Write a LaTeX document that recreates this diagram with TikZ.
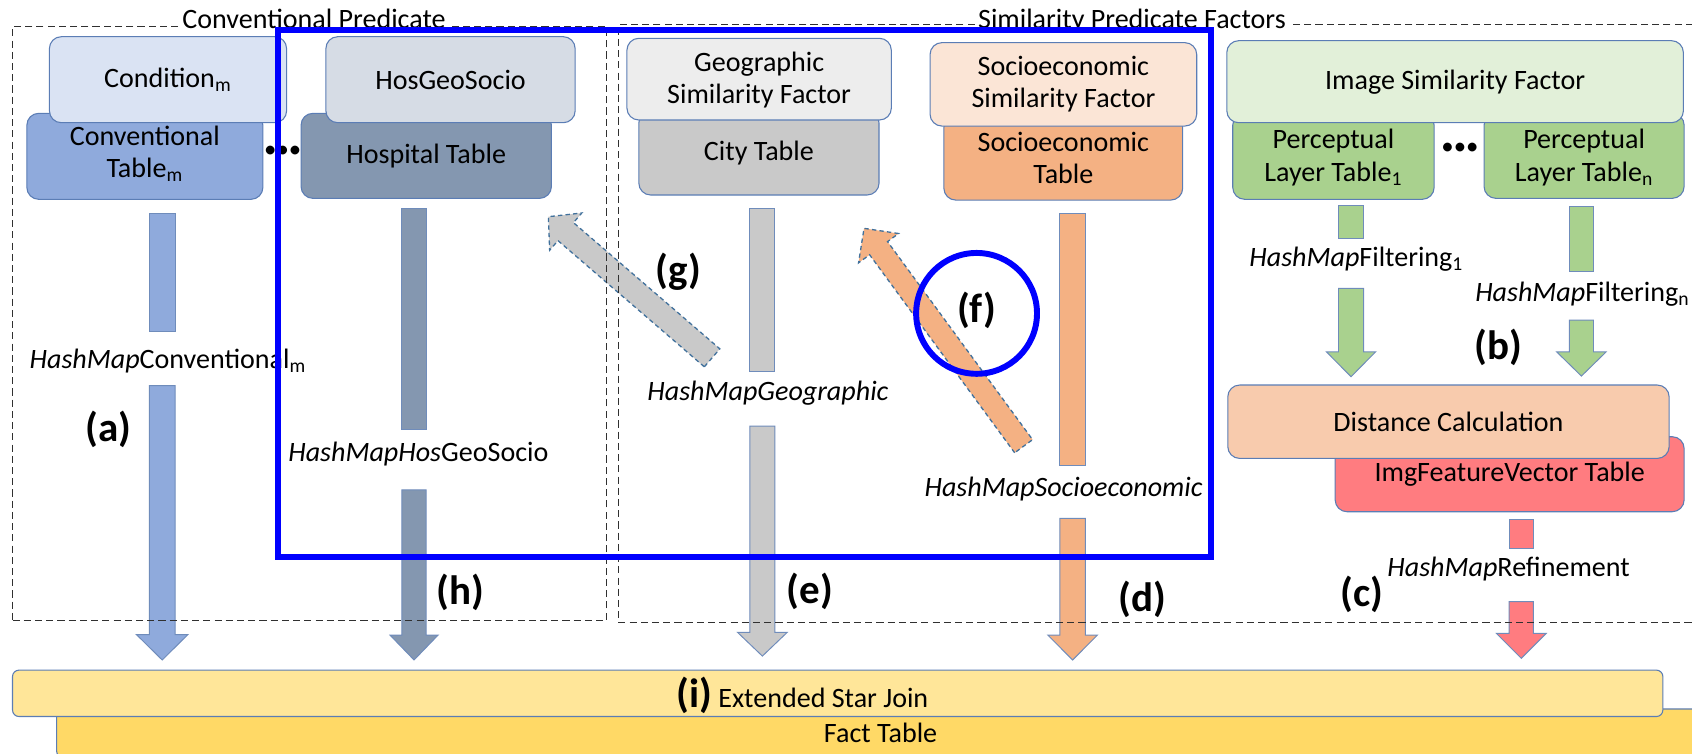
\documentclass[tikz,border=0pt]{standalone}
\usepackage{fontspec}
\setmainfont{Carlito}
\usetikzlibrary{calc,fit}

\definecolor{condfill}{HTML}{DAE3F3}
\definecolor{convfill}{HTML}{8FAADC}
\definecolor{hgsfill}{HTML}{D6DCE5}
\definecolor{hospfill}{HTML}{8497B0}
\definecolor{geofill}{HTML}{EDEDED}
\definecolor{cityfill}{HTML}{C9C9C9}
\definecolor{sesffill}{HTML}{FBE5D6}
\definecolor{setabfill}{HTML}{F4B183}
\definecolor{isffill}{HTML}{E2F0D9}
\definecolor{pltfill}{HTML}{A9D18E}
\definecolor{distfill}{HTML}{F8CBAD}
\definecolor{ifvfill}{HTML}{FF7C80}
\definecolor{sjfill}{HTML}{FFE699}
\definecolor{factfill}{HTML}{FFD966}
\definecolor{boxline}{HTML}{5B7DB5}
\definecolor{arrowline}{HTML}{6F8CBB}
\definecolor{dashline}{HTML}{41719C}
\definecolor{regionline}{HTML}{303030}
\definecolor{focusblue}{HTML}{0000FF}

% plain shaft piece of a block arrow: top coordinate, bottom coordinate, half width, style
\newcommand\shaftbar[4]{%
  \draw[#4] ($(#1)+(-#3,0)$) rectangle ($(#2)+(#3,0)$);}
% block arrow: tail, tip, half shaft width, half head width, head length, style
\newcommand\blockarrow[6]{%
  \path ($(#2)!#5!(#1)$) coordinate (ba-base);
  \draw[#6] ($(#1)!#3!90:(#2)$) -- ($(ba-base)!#3!90:(#2)$) -- ($(ba-base)!#4!90:(#2)$)
    -- (#2) -- ($(ba-base)!#4!-90:(#2)$) -- ($(ba-base)!#3!-90:(#2)$)
    -- ($(#1)!#3!-90:(#2)$) -- cycle;}

\begin{document}
\begin{tikzpicture}[x=0.5pt,y=-0.5pt,
  every node/.style={font=\fontsize{13}{15}\selectfont, text=black},
  tbl/.style={draw=boxline, line width=0.5pt, rounded corners=5.5pt, inner sep=0pt},
  tbltext/.style={align=center, inner sep=0pt},
  region/.style={draw=regionline, line width=0.55pt, dash pattern=on 3.3pt off 1.9pt, inner sep=0pt},
  regiontitle/.style={fill=white, inner sep=1.5pt, anchor=base},
  hashlabel/.style={anchor=base, inner sep=0pt},
  steplabel/.style={font=\fontsize{19}{22}\selectfont\bfseries},
  dots/.style={font=\fontsize{11.5}{13}\selectfont, inner sep=0pt},
  blockarr/.style={draw=arrowline, line width=0.45pt, fill=#1},
  diagarr/.style={draw=dashline, line width=0.6pt, dash pattern=on 2pt off 1.5pt, fill=#1},
  focus/.style={draw=focusblue, line width=2.75pt}
]
\useasboundingbox (0,0) rectangle (1568,698);
\clip (0,0) rectangle (1568,698);

% ---------- fact table and star join ----------
\node[tbl, fill=factfill, rounded corners=3pt, fit={(52.5,657) (1580,702)}] (fact) {};
\node[tbltext] (facttext) at (816,679.5) {Fact Table};
\node[tbl, fill=sjfill, rounded corners=3pt, fit={(11.6,621) (1541,664)}] (sj) {};
\node[anchor=west, inner sep=0pt] (sjtext) at (626.4,644)
  {{\fontsize{19}{22}\selectfont\bfseries (i)}\ Extended Star Join};

% ---------- conventional predicate tables ----------
\node[tbl, fill=convfill, fit={(24.9,105) (243.6,184.7)}] (convtab) {};
\node[tbltext] (convtabtext) at (134.3,142.7) {Conventional\\Table\textsubscript{m}};
\node[tbl, fill=condfill, fit={(45.8,34) (265.6,113.7)}] (cond) {};
\node[tbltext] (condtext) at (155.7,74) {Condition\textsubscript{m}};
\node[tbl, fill=hospfill, fit={(279,105) (511,183.8)}] (hosptab) {};
\node[tbltext] (hosptabtext) at (395,145) {Hospital Table};
\node[tbl, fill=hgsfill, fit={(302,34) (533,113.7)}] (hgs) {};
\node[tbltext] (hgstext) at (417.5,74) {HosGeoSocio};
\node[dots] (convdots) at (262,140.6) {•••};

% ---------- similarity factor tables ----------
\node[tbl, fill=cityfill, fit={(592,103) (814.6,180.7)}] (city) {};
\node[tbltext] (citytext) at (703.3,142) {City Table};
\node[tbl, fill=geofill, fit={(581,35.5) (826,111.2)}] (geo) {};
\node[tbltext] (geotext) at (703.5,74) {Geographic\\Similarity Factor};
\node[tbl, fill=setabfill, fit={(874.7,107) (1096,185.4)}] (setab) {};
\node[tbltext] (setabtext) at (985.4,146.5) {Socioeconomic\\Table};
\node[tbl, fill=sesffill, fit={(861.9,39.5) (1109,116.8)}] (sesf) {};
\node[tbltext] (sesftext) at (985.5,78) {Socioeconomic\\Similarity Factor};
\node[tbl, fill=pltfill, fit={(1142.4,105) (1329,184.7)}] (plt1) {};
\node[tbltext] (plt1text) at (1235.7,146) {Perceptual\\Layer Table\textsubscript{1}};
\node[tbl, fill=pltfill, fit={(1375.3,105) (1560.7,183.8)}] (pltn) {};
\node[tbltext] (pltntext) at (1468,146) {Perceptual\\Layer Table\textsubscript{n}};
\node[tbl, fill=isffill, fit={(1136.9,37.7) (1560,113.7)}] (isf) {};
\node[tbltext] (isftext) at (1348.5,75.7) {Image Similarity Factor};
\node[dots] (imgdots) at (1353,138) {•••};
\node[tbl, fill=ifvfill, fit={(1237.3,404.7) (1560.7,474.2)}] (ifv) {};
\node[tbltext] (ifvtext) at (1399,439.3) {ImgFeatureVector Table};
\node[tbl, fill=distfill, fit={(1137.8,356.8) (1546.8,424.8)}] (dist) {};
\node[tbltext] (disttext) at (1342.3,390.8) {Distance Calculation};

% ---------- hash map labels ----------
\node[hashlabel] (convlab) at (155.7,341.4) {\textit{HashMap}Conventional\textsubscript{m}};
\node[hashlabel] (hgslab) at (387.7,427.9) {\textit{HashMapHos}GeoSocio};
\node[hashlabel] (geolab) at (711.6,370.7) {\textit{HashMapGeographic}};
\node[hashlabel] (selab) at (985.6,460.3) {\textit{HashMapSocioeconomic}};
\node[hashlabel] (f1lab) at (1257,247) {\textit{HashMap}Filtering\textsubscript{1}};
\node[hashlabel] (fnlab) at (1466.5,279.6) {\textit{HashMap}Filtering\textsubscript{n}};
\node[hashlabel] (reflab) at (1398,534.4) {\textit{HashMap}Refinement};

% ---------- arrow end points ----------
\coordinate (a1) at (150.3,197.7); \coordinate (a2) at (150.3,307.4);
\coordinate (a3) at (150.3,357.4); \coordinate (a4) at (150.3,611.6);
\coordinate (h1) at (383.7,193);   \coordinate (h2) at (383.7,397.6);
\coordinate (h3) at (383.7,454);   \coordinate (h4) at (383.7,611.6);
\coordinate (e1) at (706.5,193);   \coordinate (e2) at (706.5,344.5);
\coordinate (e3) at (706.5,394.8); \coordinate (e4) at (706.5,608);
\coordinate (d1) at (994,197.7);   \coordinate (d2) at (994,431);
\coordinate (d3) at (994,480.4);   \coordinate (d4) at (994,611.6);
\coordinate (b1) at (1252,190.6);  \coordinate (b2) at (1252,221);
\coordinate (b3) at (1252,267.2);  \coordinate (b4) at (1252,349.1);
\coordinate (n1) at (1465.5,191.5); \coordinate (n2) at (1465.5,251.8);
\coordinate (n3) at (1465.5,296.6); \coordinate (n4) at (1465.5,348.5);
\coordinate (c1) at (1409.8,481.3); \coordinate (c2) at (1409.8,508.2);
\coordinate (c3) at (1409.8,557.6); \coordinate (c4) at (1409.8,610.1);
\coordinate (gtail) at (659.9,331.6); \coordinate (gtip) at (508.2,200.8);
\coordinate (ftail) at (948.6,413.5); \coordinate (ftip) at (800.7,211.6);

% ---------- block arrows ----------
\shaftbar{a1}{a2}{11.9}{blockarr=convfill}
\blockarrow{a3}{a4}{5.95pt}{11.95pt}{11.8pt}{blockarr=convfill}
\shaftbar{h1}{h2}{11.2}{blockarr=hospfill}
\blockarrow{h3}{h4}{5.6pt}{11.15pt}{11.55pt}{blockarr=hospfill}
\shaftbar{e1}{e2}{11.5}{blockarr=cityfill}
\blockarrow{e3}{e4}{5.75pt}{11.5pt}{11pt}{blockarr=cityfill}
\shaftbar{d1}{d2}{11.8}{blockarr=setabfill}
\blockarrow{d3}{d4}{5.9pt}{11.5pt}{11.55pt}{blockarr=setabfill}
\shaftbar{b1}{b2}{11.6}{blockarr=pltfill}
\blockarrow{b3}{b4}{5.8pt}{11.4pt}{11.55pt}{blockarr=pltfill}
\shaftbar{n1}{n2}{11.2}{blockarr=pltfill}
\blockarrow{n3}{n4}{5.6pt}{11.5pt}{11.25pt}{blockarr=pltfill}
\shaftbar{c1}{c2}{11.2}{blockarr=ifvfill}
\blockarrow{c3}{c4}{5.6pt}{11.5pt}{11.55pt}{blockarr=ifvfill}
\blockarrow{gtail}{gtip}{5.5pt}{11.4pt}{10.6pt}{diagarr=cityfill}
\blockarrow{ftail}{ftip}{5.15pt}{11.5pt}{11.4pt}{diagarr=setabfill}

% ---------- step labels ----------
\node[steplabel] (la) at (100.8,397.7) {(a)};
\node[steplabel] (lb) at (1388.6,322) {(b)};
\node[steplabel] (lc) at (1262,551) {(c)};
\node[steplabel] (ld) at (1058.5,555) {(d)};
\node[steplabel] (le) at (750.5,548) {(e)};
\node[steplabel] (lf) at (905,288) {(f)};
\node[steplabel] (lg) at (628.8,252) {(g)};
\node[steplabel] (lh) at (427,549) {(h)};

% ---------- predicate regions ----------
\node[region, fit={(11.6,24.7) (562,575)}] (convregion) {};
\node[region, fit={(573,23) (1600,576.8)}] (simregion) {};
\node[regiontitle] (convtitle) at (291,26.5) {Conventional Predicate};
\node[regiontitle] (simtitle) at (1049,26) {Similarity Predicate Factors};

% ---------- highlight marks ----------
\node[focus, inner sep=0pt, fit={(257.7,27.4) (1122.5,516)}] (focusbox) {};
\node[focus, circle, inner sep=0pt, minimum size=56pt] (fmark) at (905,290.4) {};
\end{tikzpicture}
\end{document}
